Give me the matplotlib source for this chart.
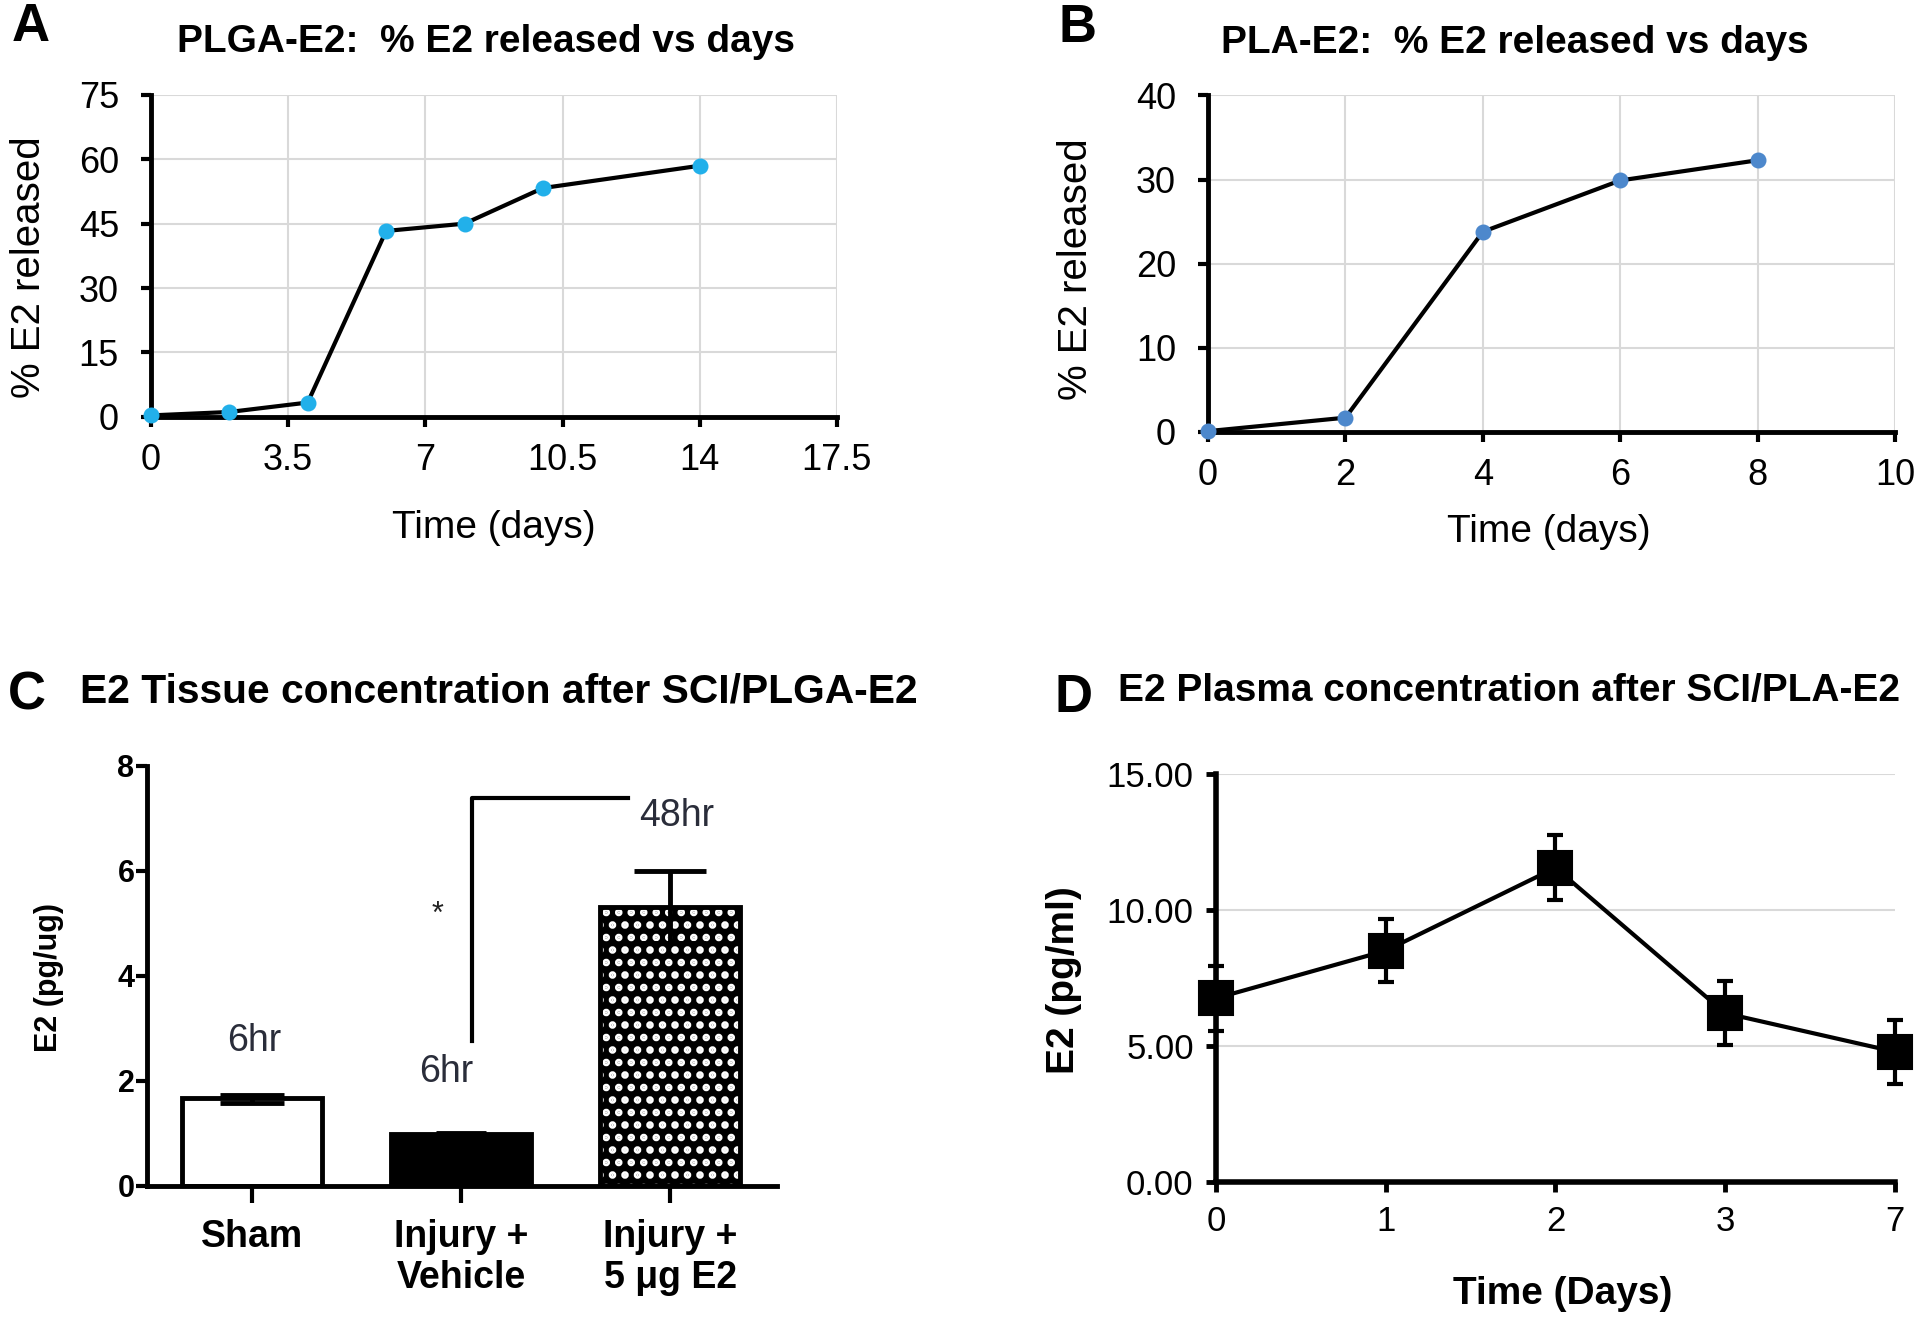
import matplotlib
matplotlib.use("Agg")
import matplotlib.pyplot as plt
import numpy as np

DPI = 150
K = 100.0 / DPI  # converts sizes tuned for 100 dpi to this dpi


def s(v):
    return v * K


plt.rcParams['font.family'] = ['Liberation Sans', 'DejaVu Sans']
plt.rcParams['hatch.linewidth'] = 2.4

# ---- Data ----
plga_days = [0, 2, 4, 6, 8, 10, 14]
plga_release = [0.3, 1.1, 3.3, 43.3, 45.0, 53.3, 58.5]
plga_xticks = [0, 3.5, 7, 10.5, 14, 17.5]
plga_xticklabels = ['0', '3.5', '7', '10.5', '14', '17.5']
plga_yticks = [0, 15, 30, 45, 60, 75]

pla_days = [0, 2, 4, 6, 8]
pla_release = [0.1, 1.7, 23.8, 29.9, 32.3]
pla_xticks = [0, 2, 4, 6, 8, 10]
pla_yticks = [0, 10, 20, 30, 40]

tissue_groups = ['Sham', 'Injury +\nVehicle', 'Injury +\n5 \u03bcg E2']
tissue_values = [1.66, 0.98, 5.30]
tissue_err_low = [0.08, 0.02, 0.68]
tissue_err_high = [0.07, 0.03, 0.70]
tissue_times = ['6hr', '6hr', '48hr']
tissue_yticks = [0, 2, 4, 6, 8]

plasma_days = ['0', '1', '2', '3', '7']
plasma_values = [6.75, 8.5, 11.55, 6.2, 4.78]
plasma_err = [1.2, 1.17, 1.2, 1.17, 1.18]
plasma_yticks = [0, 5, 10, 15]
plasma_yticklabels = ['0.00', '5.00', '10.00', '15.00']

fig = plt.figure(figsize=(1920 / DPI, 1317 / DPI), dpi=DPI)

grid_c = '#d9d9d9'
tick_fs = s(26)


def style_line_axes(ax):
    for side in ['top', 'right']:
        ax.spines[side].set_visible(False)
    for side in ['left', 'bottom']:
        ax.spines[side].set_linewidth(s(3.5))
    ax.tick_params(axis='both', width=s(3), length=s(7), labelsize=tick_fs, direction='out')
    ax.tick_params(axis='y', pad=s(16))
    ax.tick_params(axis='x', pad=s(12))
    ax.grid(True, color=grid_c, linewidth=s(1.5))
    ax.set_axisbelow(True)


# ---- Panel A ----
axA = fig.add_axes([0.0786, 0.6836, 0.3573, 0.2443])
axA.plot(plga_days, plga_release, color='black', lw=s(3), marker='o', ms=s(10),
         mfc='#22b0ea', mec='#22b0ea', zorder=3, clip_on=False)
axA.set_xlim(0, 17.5)
axA.set_ylim(0, 75)
axA.set_xticks(plga_xticks)
axA.set_xticklabels(plga_xticklabels)
axA.set_yticks(plga_yticks)
style_line_axes(axA)
axA.set_xlabel('Time (days)', fontsize=s(28))
axA.set_ylabel('% E2 released', fontsize=s(29))
axA.xaxis.set_label_coords(0.50, -0.29)
axA.yaxis.set_label_coords(-0.150, 0.465)
fig.text(0.253, 0.968, 'PLGA-E2:  % E2 released vs days', fontsize=s(28), fontweight='bold',
         ha='center', va='center')
fig.text(0.0159, 0.9795, 'A', fontsize=s(38), fontweight='bold', ha='center', va='center')

# ---- Panel B ----
axB = fig.add_axes([0.6292, 0.672, 0.3578, 0.2555])
axB.plot(pla_days, pla_release, color='black', lw=s(3), marker='o', ms=s(10),
         mfc='#4d88cc', mec='#4d88cc', zorder=3, clip_on=False)
axB.set_xlim(0, 10)
axB.set_ylim(0, 40)
axB.set_xticks(pla_xticks)
axB.set_yticks(pla_yticks)
style_line_axes(axB)
axB.set_xlabel('Time (days)', fontsize=s(28))
axB.set_ylabel('% E2 released', fontsize=s(29))
axB.xaxis.set_label_coords(0.496, -0.245)
axB.yaxis.set_label_coords(-0.164, 0.484)
fig.text(0.789, 0.9675, 'PLA-E2:  % E2 released vs days', fontsize=s(28), fontweight='bold',
         ha='center', va='center')
fig.text(0.561, 0.9786, 'B', fontsize=s(38), fontweight='bold', ha='center', va='center')

# ---- Panel C ----
axC = fig.add_axes([0.0766, 0.0998, 0.328, 0.3187])
xpos = np.arange(len(tissue_groups))
w = 0.67
axC.bar(xpos[0], tissue_values[0], width=w, color='white', edgecolor='black', lw=s(3.5), zorder=2)
axC.bar(xpos[1], tissue_values[1], width=w, color='black', edgecolor='black', lw=s(3.5), zorder=2)
axC.bar(xpos[2], tissue_values[2], width=w, color='black', edgecolor='white', lw=0,
        hatch='..', zorder=2)
axC.bar(xpos[2], tissue_values[2], width=w, color='none', edgecolor='black', lw=s(3.5), zorder=3)
caps = [23, 18, 26]
for i in range(3):
    axC.errorbar(xpos[i], tissue_values[i],
                 yerr=[[tissue_err_low[i]], [tissue_err_high[i]]],
                 color='black', capsize=s(caps[i]), capthick=s(3.5), elinewidth=s(3.5), zorder=4)
axC.set_xlim(-0.50, 2.51)
axC.set_ylim(0, 8)
axC.set_yticks(tissue_yticks)
axC.set_xticks(xpos)
axC.set_xticklabels(tissue_groups, fontsize=s(27), fontweight='bold', linespacing=1.2)
for side in ['top', 'right']:
    axC.spines[side].set_visible(False)
for side in ['left', 'bottom']:
    axC.spines[side].set_linewidth(s(3.5))
axC.tick_params(axis='y', width=s(3), length=s(8), labelsize=s(22), pad=s(1), direction='out')
axC.tick_params(axis='x', width=s(3), length=s(12), pad=s(12), direction='out')
for lab in axC.get_yticklabels():
    lab.set_fontweight('bold')
axC.set_ylabel('E2 (pg/ug)', fontsize=s(22), fontweight='bold')
axC.yaxis.set_label_coords(-0.132, 0.496)
# significance bracket
axC.plot([1.053, 1.053, 1.80], [2.75, 7.38, 7.38], color='black', lw=s(3), zorder=3)
axC.text(0.89, 5.15, '*', fontsize=s(22), ha='center', va='center', color='#222222')
ann_pos = [(0.01, 2.75), (0.93, 2.17), (2.03, 7.05)]
for (ax_, ay_), t in zip(ann_pos, tissue_times):
    axC.text(ax_, ay_, t, fontsize=s(27), ha='center', va='center', color='#2a2d3a')
fig.text(0.260, 0.475, 'E2 Tissue concentration after SCI/PLGA-E2', fontsize=s(29.3),
         fontweight='bold', ha='center', va='center')
fig.text(0.014, 0.472, 'C', fontsize=s(38), fontweight='bold', ha='center', va='center')

# ---- Panel D ----
axD = fig.add_axes([0.6333, 0.1027, 0.3537, 0.3096])
dpos = np.arange(len(plasma_days))
axD.errorbar(dpos, plasma_values, yerr=plasma_err, color='black', lw=s(3), marker='s',
             ms=s(24), mfc='black', mec='black', capsize=s(6), capthick=s(3), elinewidth=s(3),
             zorder=3, clip_on=False)
axD.set_xlim(0, 4)
axD.set_ylim(0, 15)
axD.set_yticks(plasma_yticks)
axD.set_yticklabels(plasma_yticklabels)
axD.set_xticks(dpos)
axD.set_xticklabels(plasma_days)
for side in ['top', 'right']:
    axD.spines[side].set_visible(False)
for side in ['left', 'bottom']:
    axD.spines[side].set_linewidth(s(4))
axD.tick_params(axis='both', width=s(3.5), length=s(7), labelsize=s(25), direction='out')
axD.tick_params(axis='y', pad=s(9))
axD.tick_params(axis='x', pad=s(10))
axD.yaxis.grid(True, color=grid_c, linewidth=s(1.5))
axD.set_axisbelow(True)
axD.set_xlabel('Time (Days)', fontsize=s(28), fontweight='bold')
axD.set_ylabel('E2 (pg/ml)', fontsize=s(28), fontweight='bold')
axD.xaxis.set_label_coords(0.511, -0.23)
axD.yaxis.set_label_coords(-0.197, 0.495)
fig.text(0.786, 0.475, 'E2 Plasma concentration after SCI/PLA-E2', fontsize=s(28),
         fontweight='bold', ha='center', va='center')
fig.text(0.5593, 0.4703, 'D', fontsize=s(38), fontweight='bold', ha='center', va='center')

fig.savefig('out.png', dpi=DPI)
